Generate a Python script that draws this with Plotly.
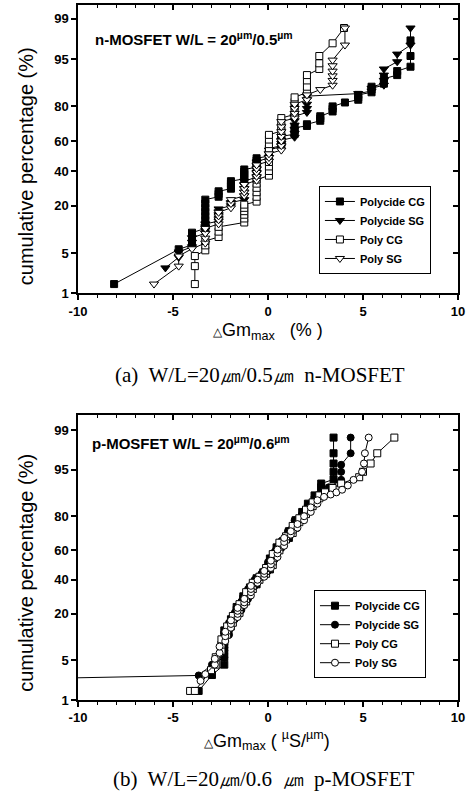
import plotly.graph_objects as go
from statistics import NormalDist

_nd = NormalDist()


def zval(p):
    return _nd.inv_cdf(p / 100.0)


# ---------------- tick labels ----------------
ytick_pcts = [1, 5, 20, 40, 60, 80, 95, 99]
ytick_text = ["1", "5", "20", "40", "60", "80", "95", "99"]
xtick_vals = [-10, -5, 0, 5, 10]
xtick_text = ["-10", "-5", "0", "5", "10"]
series_names = ["Polycide CG", "Polycide SG", "Poly CG", "Poly SG"]

# ---------------- (a) n-MOSFET, dGm_max (%) ----------------
# column x positions and the cumulative percentages stacked at each
n_pcg_x = [-8.1, -4.7, -4.0, -3.3, -2.6, -1.95, -1.25, -0.6, 0.05, 0.7, 1.4, 2.05,
           2.75, 3.4, 4.05, 4.75, 5.45, 6.1, 6.8, 7.5]
n_pcg_p = [[1.5], [5.7], [6.6, 7.6, 8.6, 9.7], [11, 12.4, 13.9, 15.5, 17.2, 19, 21, 23],
           [24.5, 26, 27.5], [29, 30.5, 32, 33.5], [35, 36.5, 38, 39.5, 41],
           [42.5, 44, 45.5, 47, 48.5], [50, 51.5, 53, 55], [57, 59, 61, 63],
           [64.5, 66.5, 68.5], [69.5, 70.5], [72.5, 73.8, 75], [77.5, 78.8, 80], [81.8],
           [83, 84, 85], [86, 87, 88], [89, 90.5], [91.5, 92.5], [93.5, 95.5, 97.5]]

n_psg_x = [-5.4, -4.7, -4.0, -3.3, -2.6, -1.95, -1.25, -0.6, 0.05, 0.7, 1.4, 2.05,
           4.75, 5.45, 6.1, 6.8, 7.5]
n_psg_p = [[2.9], [4.3, 5.2], [6.2, 7.2, 8.3], [9.5, 10.5, 11.5, 12.5],
           [13.5, 14.7, 16, 17.2, 18.5], [20, 21.5], [23, 25, 27, 29, 31, 33.5],
           [36, 38.5, 41, 43.5, 46], [49, 51.5, 54], [56.5, 58.5, 60.5],
           [62.5, 65, 67.5, 70, 72.5, 75], [77, 79, 81, 83, 84.5], [85.5], [86.5, 87.5],
           [88.5, 90, 91.5, 93], [94.5, 95.8], [97, 98.5]]

n_ycg_x = [-3.85, -3.3, -2.6, -1.25, -0.6, 0.05, 0.7, 1.4, 2.05, 2.7, 3.4, 4.0]
n_ycg_p = [[1.5, 3.1, 4.5], [5.5, 6.5, 7.5], [8.5, 10, 11.5],
           [13, 14.5, 16, 17.5, 19, 20.5], [22, 24.5, 27, 29.5, 32, 34.5],
           [37, 40, 43, 46, 49, 52, 55, 58, 61, 64], [66.5, 69, 71.5, 74],
           [76, 78, 80, 82, 84], [86, 88, 90, 91.5], [93, 94.2, 95.5], [97.2], [98.5]]

n_ysg_x = [-6.0, -4.7, -4.0, -3.3, -2.6, -1.95, -1.25, -0.6, 0.05, 0.7, 1.4, 2.05,
           2.75, 3.4, 4.05]
n_ysg_p = [[1.5], [3.1, 4.5], [5.8], [7, 8.2, 9.5, 11], [12.5, 14, 15.5, 17],
           [19, 21, 23], [25, 27, 29, 31.5], [34, 36.5, 39, 41.5, 44], [46.5, 49, 51.5],
           [54, 57, 60, 63, 66, 69, 72], [74, 76.5, 79, 81], [83, 85], [87],
           [88.5, 90, 91.3, 92.5, 93.7, 94.8], [97, 98.5]]

# ---------------- (b) p-MOSFET, dGm_max (uS/um) ----------------
p_pcg_x = [-3.65, -2.95, -2.3, -1.95, -1.65, -1.3, -0.95, -0.6, -0.25, 0.1, 0.45, 0.8,
           1.1, 1.45, 1.8, 2.1, 2.45, 2.8, 3.45]
p_pcg_p = [[1.5], [2.9], [4.3, 5.6, 7, 8.5, 10, 11.5, 13], [14.5, 16, 17.5],
           [19, 20.5, 22, 23.5], [25, 26.5, 28, 29.5], [31, 33, 35], [37, 39, 41],
           [43, 45], [47, 49.5, 52, 54.5], [57, 59.5, 62], [64, 66], [68, 70, 72],
           [74, 76, 78], [80, 82], [84, 85.5], [87, 88.5], [90, 91, 92],
           [93, 94.6, 96, 97.3, 98.6]]

p_psg_x = [-46.0, -3.65, -2.95, -2.3, -2.05, -1.75, -1.4, -1.05, -0.7, -0.35, 0.0, 0.35,
           0.7, 1.05, 1.4, 1.75, 2.1, 2.5, 2.85, 3.2, 3.85, 4.35]
p_psg_p = [[1.5], [2.85], [4.3], [5.6, 7, 8.5, 10], [11.5, 13, 14.5, 16], [17.5, 19, 20.5],
           [22, 23.5, 25, 26.5], [28, 30, 32, 34], [36, 38, 40], [42, 44],
           [46, 48, 50, 52], [54, 56.5, 59], [61.5, 64, 66], [68, 70, 72], [74, 76, 78],
           [80], [82, 84], [86], [88, 89.5], [91], [92.9, 94.6, 95.8], [97.3, 98.6]]

p_ycg_x = [-4.1, -3.85, -3.0, -2.75, -2.45, -2.15, -1.85, -1.5, -1.15, -0.8, -0.45, -0.1,
           0.25, 0.6, 0.95, 1.3, 1.65, 2.0, 2.35, 2.7, 3.0, 3.4, 3.85, 4.8, 5.0, 5.4,
           5.75, 6.65]
p_ycg_p = [[1.5], [1.5], [3.5], [4.3, 5.6], [7, 8.5, 10], [11.5, 13, 14.5],
           [16, 17.5, 19], [20.5, 22, 23.5, 25], [26.5, 28, 30, 32], [34, 36, 38],
           [40, 42], [44, 46, 48], [50, 52.5, 55, 57.5], [60, 62.5, 65], [67, 69],
           [71, 73, 75], [77, 79], [81, 83], [84.5, 86], [87.5, 88.5], [89.5], [90.8],
           [92], [93.5], [94.6], [96], [97.3], [98.6]]

p_ysg_x = [-3.55, -3.3, -2.8, -2.55, -2.25, -1.95, -1.6, -1.25, -0.9, -0.55, -0.2, 0.15,
           0.5, 0.85, 1.2, 1.55, 1.9, 2.25, 2.6, 2.95, 3.3, 3.6, 3.9, 4.2, 4.5, 4.95,
           5.05, 5.1, 5.3]
p_ysg_p = [[2.3], [3.0], [4.3, 5.3], [6.5, 8], [9.5, 11, 12.5], [14, 15.5, 17],
           [18.5, 20, 21.5, 23], [24.5, 26, 28], [30, 32, 34, 36], [38, 40],
           [42, 44, 46], [48, 50.5, 53], [55.5, 58, 60.5], [63, 65.5, 68], [70, 72],
           [74, 76], [78, 80], [82, 84], [85.5, 86.8], [88], [88.8], [89.5], [90.3],
           [91.5], [92.9], [94.6], [96], [97.3], [98.6]]


def flatten(cols, pcts):
    xs, zs = [], []
    for x, plist in zip(cols, pcts):
        for p in plist:
            xs.append(x)
            zs.append(zval(p))
    return xs, zs


FONT = "Arial, Liberation Sans, sans-serif"
SERIF = "Times New Roman, Liberation Serif, serif"

top_data = [(n_pcg_x, n_pcg_p), (n_psg_x, n_psg_p), (n_ycg_x, n_ycg_p), (n_ysg_x, n_ysg_p)]
bot_data = [(p_pcg_x, p_pcg_p), (p_psg_x, p_psg_p), (p_ycg_x, p_ycg_p), (p_ysg_x, p_ysg_p)]
top_sym = [("square", "black", 7), ("triangle-down", "black", 8),
           ("square", "white", 7), ("triangle-down", "white", 8)]
bot_sym = [("square", "black", 7), ("circle", "black", 7),
           ("square", "white", 7), ("circle", "white", 7)]

fig = go.Figure()
for (cols, pcts), (sym, col, size), name in zip(top_data, top_sym, series_names):
    xs, zs = flatten(cols, pcts)
    fig.add_trace(go.Scatter(
        x=xs, y=zs, mode="lines+markers", name=name, xaxis="x", yaxis="y",
        legend="legend",
        line=dict(color="black", width=1),
        marker=dict(symbol=sym, color=col, size=size, line=dict(color="black", width=1))))
for (cols, pcts), (sym, col, size), name in zip(bot_data, bot_sym, series_names):
    xs, zs = flatten(cols, pcts)
    fig.add_trace(go.Scatter(
        x=xs, y=zs, mode="lines+markers", name=name, xaxis="x2", yaxis="y2",
        legend="legend2",
        line=dict(color="black", width=1),
        marker=dict(symbol=sym, color=col, size=size, line=dict(color="black", width=1))))

# dummy traces for mirrored (inward tick) frame axes
for xa, ya in (("x3", "y3"), ("x4", "y4")):
    fig.add_trace(go.Scatter(x=[None], y=[None], xaxis=xa, yaxis=ya,
                             showlegend=False, hoverinfo="skip"))

ytick_z = [zval(p) for p in ytick_pcts]
tickfont = dict(family=FONT, size=13, color="black", weight="bold")

TOP_DOM = [0.5852, 1.0]
BOT_DOM = [0.0, 0.4101]
TOP_RANGE = [zval(1), 2.56]
BOT_RANGE = [zval(1), 2.587]


def xmain(anchor):
    return dict(domain=[0, 1], range=[-10, 10], anchor=anchor, tickmode="array",
                tickvals=xtick_vals, ticktext=xtick_text, ticks="outside", ticklen=5,
                tickwidth=1.5, tickcolor="black", showline=True, linewidth=1.5,
                linecolor="black", showgrid=False, zeroline=False, tickfont=tickfont,
                minor=dict(dtick=1, tick0=0, ticks="outside", ticklen=3, tickwidth=1,
                           tickcolor="black", showgrid=False))


def xmirror(over, anchor):
    return dict(domain=[0, 1], range=[-10, 10], overlaying=over, anchor=anchor, side="top",
                tickmode="array", tickvals=xtick_vals, ticks="inside", ticklen=5,
                tickwidth=1.5, tickcolor="black", showticklabels=False, showline=True,
                linewidth=1.5, linecolor="black", showgrid=False, zeroline=False,
                minor=dict(dtick=1, tick0=0, ticks="inside", ticklen=3, tickwidth=1,
                           tickcolor="black", showgrid=False))


def ymain(anchor, dom, rng):
    return dict(domain=dom, range=rng, anchor=anchor, tickmode="array", tickvals=ytick_z,
                ticktext=ytick_text, ticks="outside", ticklen=5, tickwidth=1.5,
                tickcolor="black", showline=True, linewidth=1.5, linecolor="black",
                showgrid=False, zeroline=False, tickfont=tickfont)


def ymirror(over, anchor, dom, rng):
    return dict(domain=dom, range=rng, overlaying=over, anchor=anchor, side="right",
                tickmode="array", tickvals=ytick_z, ticks="inside", ticklen=5,
                tickwidth=1.5, tickcolor="black", showticklabels=False, showline=True,
                linewidth=1.5, linecolor="black", showgrid=False, zeroline=False)


legend_common = dict(xanchor="left", yanchor="top", bordercolor="black", borderwidth=1,
                     bgcolor="white", font=dict(family=FONT, size=11, color="black",
                                                weight="bold"),
                     itemwidth=30, tracegroupgap=0)

title_font = dict(family=FONT, size=20, color="black")
xt_font = dict(family=FONT, size=18, color="black")
lab_font = dict(family=FONT, size=15, color="black", weight="bold")
cap_font = dict(family=SERIF, size=21, color="black")
annotations = [
    dict(text="n-MOSFET W/L = 20<sup>µm</sup>/0.5<sup>µm</sup>", x=0.039, y=0.9525,
         xanchor="left", yanchor="middle", font=lab_font),
    dict(text="p-MOSFET W/L = 20<sup>µm</sup>/0.6<sup>µm</sup>", x=0.031, y=0.370,
         xanchor="left", yanchor="middle", font=lab_font),
    dict(text="cumulative percentage (%)", x=-0.137, y=0.768, textangle=-90,
         xanchor="center", yanchor="middle", font=title_font),
    dict(text="cumulative percentage (%)", x=-0.137, y=0.183, textangle=-90,
         xanchor="center", yanchor="middle", font=title_font),
    dict(text="<span style='font-size:12px'>△</span>Gm<sub>max</sub>   (% )",
         x=0.501, y=0.530, xanchor="center", yanchor="middle", font=xt_font),
    dict(text="<span style='font-size:12px'>△</span>Gm<sub>max</sub> ( <sup>µ</sup>S/<sup>µm</sup>)",
         x=0.497, y=-0.058, xanchor="center", yanchor="middle", font=xt_font),
    dict(text="(a)  W/L=20㎛/0.5㎛  n-MOSFET", x=0.480, y=0.4676, xanchor="center",
         yanchor="middle", font=cap_font),
    dict(text="(b)  W/L=20㎛/0.6  ㎛  p-MOSFET", x=0.490, y=-0.1137, xanchor="center",
         yanchor="middle", font=cap_font),
]
for a in annotations:
    a.update(xref="paper", yref="paper", showarrow=False)

fig.update_layout(
    width=470, height=795, autosize=False,
    margin=dict(l=78, r=10, t=5, b=95, pad=0),
    paper_bgcolor="white", plot_bgcolor="white",
    showlegend=True,
    xaxis=xmain("y"), yaxis=ymain("x", TOP_DOM, TOP_RANGE),
    xaxis2=xmain("y2"), yaxis2=ymain("x2", BOT_DOM, BOT_RANGE),
    xaxis3=xmirror("x", "y3"), yaxis3=ymirror("y", "x3", TOP_DOM, TOP_RANGE),
    xaxis4=xmirror("x2", "y4"), yaxis4=ymirror("y2", "x4", BOT_DOM, BOT_RANGE),
    legend=dict(x=0.634, y=0.7396, **legend_common),
    legend2=dict(x=0.621, y=0.158, **legend_common),
    annotations=annotations,
)

# remove the browser's default 8px page margin so the figure fills the window exactly
fig.write_html("out.html", config={"displayModeBar": False},
               post_script="document.body.style.margin='0';document.body.style.overflow='hidden';")
